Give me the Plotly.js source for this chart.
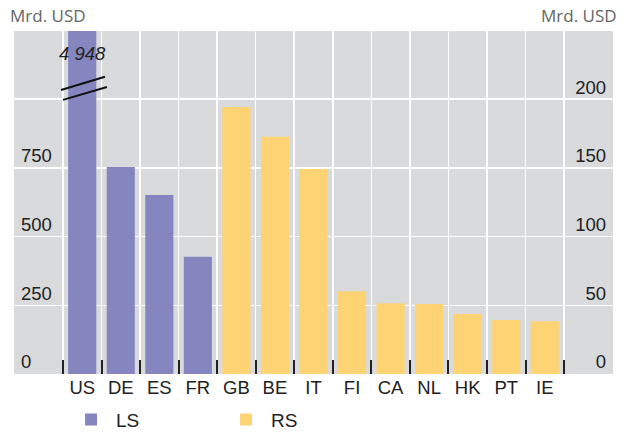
<!DOCTYPE html>
<html>
<head>
<meta charset="utf-8">
<script src="https://cdn.plot.ly/plotly-3.0.1.min.js"></script>
<style>body{margin:0}#chart{width:629px;height:434px}</style>
</head>
<body>
<div id="chart"></div>
<script>
// categories and values
var countries = ["US","DE","ES","FR","GB","BE","IT","FI","CA","NL","HK","PT","IE"];
var lsCountries = ["US","DE","ES","FR"];
var lsValues = [4948, 753, 651, 426];
var rsCountries = ["GB","BE","IT","FI","CA","NL","HK","PT","IE"];
var rsValues = [194.3, 172.5, 149.2, 60.2, 51.5, 50.9, 43.7, 39.3, 38.4];
var leftTicks = [0, 250, 500, 750];
var rightTicks = [0, 50, 100, 150, 200];

var lsTrace = {
  type: "bar", name: "LS", x: lsCountries, y: lsValues, yaxis: "y",
  marker: {color: "#8586c0"}, width: 0.73
};
var rsTrace = {
  type: "bar", name: "RS", x: rsCountries, y: rsValues, yaxis: "y2",
  marker: {color: "#fdd374"}, width: 0.73
};

var tickFont = {family: "Arial", size: 18.5, color: "#222"};

var layout = {
  width: 629, height: 434,
  margin: {l: 14, r: 16, t: 31, b: 60, autoexpand: false},
  paper_bgcolor: "white", plot_bgcolor: "#d9dadc",
  barmode: "overlay",
  showlegend: true,
  legend: {orientation: "h", x: 0.105, xref: "container", y: -0.133, yanchor: "middle",
           font: {family: "Arial", size: 19, color: "#222"},
           itemwidth: 40, traceorder: "normal", entrywidth: 100, entrywidthmode: "pixels"},
  xaxis: {
    type: "category", categoryorder: "array", categoryarray: countries,
    range: [-1.77, 13.77], tickson: "boundaries", ticks: "inside", ticklen: 14, tickwidth: 2,
    tickcolor: "#222", showgrid: true, gridcolor: "white", gridwidth: 1.5,
    tickfont: tickFont, zeroline: false
  },
  yaxis: {
    range: [0, 1247.5], tickvals: leftTicks, ticktext: leftTicks.map(String),
    ticklabelposition: "inside", showgrid: false, zeroline: false,
    tickfont: tickFont, ticklabelshift: -12, ticklabelstandoff: 4
  },
  yaxis2: {
    overlaying: "y", side: "right", range: [0, 249.5], tickvals: rightTicks,
    ticktext: rightTicks.map(String),
    ticklabelposition: "inside", showgrid: true, gridcolor: "white", gridwidth: 1.5,
    zeroline: false, tickfont: tickFont, ticklabelshift: -12, ticklabelstandoff: 4
  },
  shapes: [
    {type: "line", xref: "x", yref: "y", x0: -0.55, x1: 0.59, y0: 1033, y1: 1081, line: {color: "#111", width: 2}},
    {type: "line", xref: "x", yref: "y", x0: -0.5, x1: 0.64, y0: 997, y1: 1044, line: {color: "#111", width: 2}}
  ],
  annotations: [
    {text: "<i>4 948</i>", xref: "x", yref: "y", x: "US", y: 1165, showarrow: false,
     font: {family: "Arial", size: 18.5, color: "#222"}},
    {text: "Mrd. USD", xref: "paper", yref: "paper", x: -0.01, y: 1.0, yshift: 16, xanchor: "left", yanchor: "middle",
     showarrow: false, font: {family: "Open Sans", size: 17, color: "#666"}},
    {text: "Mrd. USD", xref: "paper", yref: "paper", x: 1.01, y: 1.0, yshift: 16, xanchor: "right", yanchor: "middle",
     showarrow: false, font: {family: "Open Sans", size: 17, color: "#666"}}
  ]
};

Plotly.newPlot("chart", [lsTrace, rsTrace], layout, {displayModeBar: false, staticPlot: true});
</script>
</body>
</html>
